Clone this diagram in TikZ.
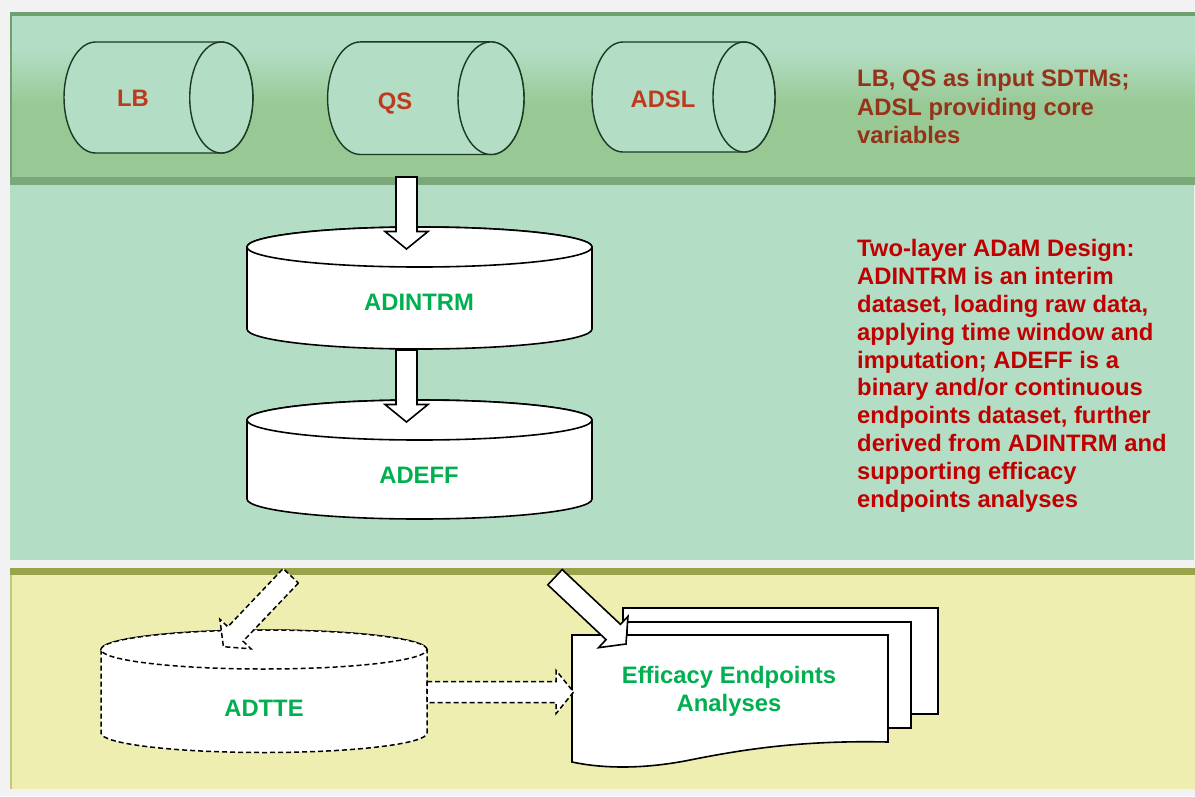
\documentclass[tikz,border=0pt]{standalone}
\usepackage{fontspec}
\setmainfont{Liberation Sans}
\usetikzlibrary{calc}
\definecolor{bggray}{HTML}{F2F2F2}
\definecolor{toplight}{HTML}{B3DDC4}
\definecolor{topdark}{HTML}{98C994}
\definecolor{topline}{HTML}{6FA06F}
\definecolor{topbot}{HTML}{7AA87A}
\definecolor{midband}{HTML}{B3DEC5}
\definecolor{botband}{HTML}{EEEEB0}
\definecolor{olive}{HTML}{9AA24A}
\definecolor{cylline}{HTML}{1C3A22}
\definecolor{srcred}{HTML}{BE3A1E}
\definecolor{notebrown}{HTML}{963219}
\definecolor{notered}{HTML}{C00000}
\definecolor{dsgreen}{HTML}{00B050}
\tikzset{
 txt/.style={font=\fontsize{23.8}{28}\selectfont\bfseries, inner sep=0pt},
 srclbl/.style={txt, text=srcred},
 dslbl/.style={txt, text=dsgreen},
 note/.style={txt, align=left, anchor=north west},
 srccyl/.style={fill=toplight, draw=cylline, line width=1.4pt},
 dscyl/.style={fill=white, draw=black, line width=1.6pt},
 dashcyl/.style={dscyl, dash pattern=on 5pt off 3pt, line width=1.5pt},
 page/.style={fill=white, draw=black, line width=1.6pt, line join=miter},
 blk/.style={fill=white, draw=black, line width=1.6pt, line join=miter},
 dashblk/.style={blk, dash pattern=on 5pt off 3pt, line width=1.5pt},
}
% horizontal cylinder: style, xleft, xright, cy, rx, ry
\newcommand{\hcyl}[6]{%
 \path[#1] (#3,#4-#6) -- (#2,#4-#6) arc[start angle=90,end angle=270,x radius=#5pt,y radius=#6pt] -- (#3,#4+#6) arc[start angle=-90,end angle=90,x radius=#5pt,y radius=#6pt] -- cycle;
 \path[#1] (#3,#4) ellipse[x radius=#5pt,y radius=#6pt];}
% vertical cylinder: style, cx, rx, ytop, ybottom, ry
\newcommand{\vcyl}[6]{%
 \path[#1] (#2-#3,#4) -- (#2-#3,#5) arc[start angle=180,end angle=360,x radius=#3pt,y radius=#6pt] -- (#2+#3,#4) arc[start angle=0,end angle=180,x radius=#3pt,y radius=#6pt] -- cycle;
 \path[#1] (#2,#4) ellipse[x radius=#3pt,y radius=#6pt];}
% block arrow: style, tail, tip
\newcommand{\blkarrow}[3]{%
 \coordinate (ba-b) at ($(#3)!17.5pt!(#2)$);
 \path[#1] ($(#2)!10.5pt!90:(#3)$) -- ($(ba-b)!10.5pt!90:(#3)$) -- ($(ba-b)!21.5pt!90:(#3)$) -- (#3) -- ($(ba-b)!21.5pt!-90:(#3)$) -- ($(ba-b)!10.5pt!-90:(#3)$) -- ($(#2)!10.5pt!-90:(#3)$) -- cycle;}
\begin{document}
\begin{tikzpicture}[x=1pt,y=-1pt]
\useasboundingbox (0,0) rectangle (1195,796);
\fill[bggray] (0,0) rectangle (1195,796);
% top band
\fill[topline] (10,12) rectangle (1195,185);
\fill[toplight] (12,16) rectangle (1195,50);
\shade[top color=toplight, bottom color=topdark] (12,50) rectangle (1195,105);
\fill[topdark] (12,105) rectangle (1195,177);
\fill[topbot] (10,177) rectangle (1195,185);
% middle band
\fill[midband] (10,185) rectangle (1194,560);
% bottom band
\fill[olive] (10,568) rectangle (1195,575);
\fill[botband] (12,575) rectangle (1195,789);
\fill[olive!50!botband] (10,575) rectangle (12,789);

% source cylinders
\hcyl{srccyl}{95.6}{221.3}{97.5}{31.6}{55.5}
\hcyl{srccyl}{360.6}{491}{98.2}{33}{56.3}
\hcyl{srccyl}{623}{744}{97}{31}{55}
\node[srclbl] (lb) at (133,98) {LB};
\node[srclbl] (qs) at (395,104) {QS};
\node[srclbl] (adsl) at (663,99) {ADSL};
\node[note, text=notebrown, font=\fontsize{23.8}{28.5}\selectfont\bfseries] (note1) at (857,69.5) {LB, QS as input SDTMs;\\ADSL providing core\\variables};

% ADaM cylinders
\vcyl{dscyl}{419.5}{172.5}{247}{329}{20}
\vcyl{dscyl}{419.5}{172.5}{420}{499}{20}
\node[dslbl] (adintrm) at (419,302) {ADINTRM};
\node[dslbl] (adeff) at (419,475) {ADEFF};
\coordinate (a1s) at (406.5,177);
\coordinate (a1t) at (406.5,249);
\blkarrow{blk}{a1s}{a1t}
\coordinate (a2s) at (406.5,350);
\coordinate (a2t) at (406.5,422);
\blkarrow{blk}{a2s}{a2t}
\node[note, text=notered, font=\fontsize{23.8}{27.8}\selectfont\bfseries] (note2) at (857,239.5) {Two-layer ADaM Design:\\ADINTRM is an interim\\dataset, loading raw data,\\applying time window and\\imputation; ADEFF is a\\binary and/or continuous\\endpoints dataset, further\\derived from ADINTRM and\\supporting efficacy\\endpoints analyses};

% bottom
\vcyl{dashcyl}{264}{163}{649.5}{733}{19.5}
\node[dslbl] (adtte) at (264,708) {ADTTE};
\draw[page] (623,608) rectangle (938,714);
\draw[page] (627,622) rectangle (911,728);
\draw[page] (572,635) -- (888,635) -- (888,742) .. controls (800,740) and (740,750) .. (690,760) .. controls (640,770) and (600,768) .. (572,762) -- cycle;
\node[dslbl, align=center] (eea) at (729,691) {Efficacy Endpoints\\Analyses};
\coordinate (a3s) at (290.8,575.8);
\coordinate (a3t) at (223.4,646.7);
\blkarrow{dashblk}{a3s}{a3t}
\coordinate (a4s) at (427,692);
\coordinate (a4t) at (573.6,692);
\blkarrow{dashblk}{a4s}{a4t}
\coordinate (a5s) at (555,577.2);
\coordinate (a5t) at (626,644);
\blkarrow{blk}{a5s}{a5t}
\end{tikzpicture}
\end{document}
